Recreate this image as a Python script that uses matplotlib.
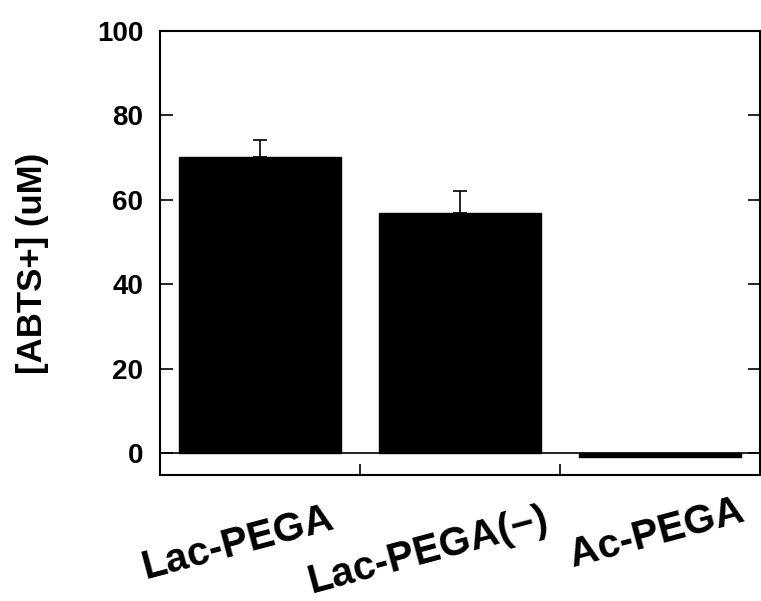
import numpy as np
import matplotlib.pyplot as plt
from matplotlib.transforms import blended_transform_factory

plt.rcParams['font.family'] = ['Liberation Sans', 'DejaVu Sans']
plt.rcParams['font.weight'] = 'bold'

# data
samples = ["Lac-PEGA", "Lac-PEGA(\u2212)", "Ac-PEGA"]
abts = [70.2, 56.9, -1.0]
abts_err = [4.0, 5.2, 0.0]
yticks = [0, 20, 40, 60, 80, 100]

fig = plt.figure(figsize=(7.61, 6.01), dpi=100)
ax = fig.add_axes([160 / 761, 126 / 601, 600 / 761, 444 / 601])

x = np.arange(len(samples)) + 0.5
ax.bar(x, abts, width=0.81, color="black", edgecolor="black")
ax.errorbar(x, abts, yerr=[np.zeros(len(abts)), abts_err], fmt="none",
            ecolor="black", elinewidth=1.2, capsize=5, capthick=1.2)
ax.axhline(0, color="black", lw=1.2, zorder=0)

ax.set_xlim(0, 3)
ax.set_ylim(-5.2, 100)
ax.set_yticks(yticks)
ax.set_xticks([1, 2])
ax.set_xticklabels([])
ax.tick_params(axis="y", direction="in", length=9, width=1.2, right=True,
               labelsize=20, pad=12)
ax.tick_params(axis="x", direction="in", length=8, width=1.2, top=False)
for s in ax.spines.values():
    s.set_linewidth(1.5)

# rotated category labels, positioned like the reference
label_x = [0.39, 1.34, 2.485]
label_y = [0.097, 0.083, 0.112]
trans = blended_transform_factory(ax.transData, fig.transFigure)
for lx, ly, name in zip(label_x, label_y, samples):
    ax.text(lx, ly, name, rotation=15, ha="center", va="center",
            rotation_mode="anchor", fontsize=29, fontweight="bold",
            transform=trans, clip_on=False)

fig.text(33 / 761, 0.561, "[ABTS+] (uM)", rotation=90, ha="center",
         va="center", fontsize=25, fontweight="bold")

fig.savefig("out.png", dpi=100)
